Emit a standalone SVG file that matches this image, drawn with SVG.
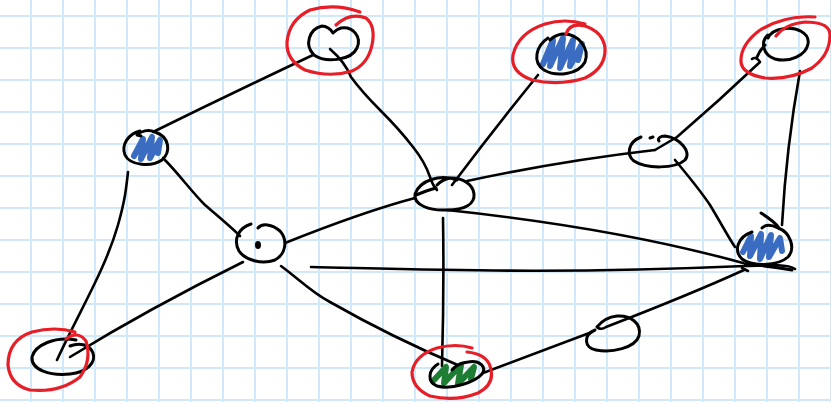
<svg xmlns="http://www.w3.org/2000/svg" width="831" height="402" viewBox="0 0 831 402">
<style>
.ink{fill:none;stroke:#000;stroke-width:3;stroke-linecap:round;stroke-linejoin:round}
.edge{fill:none;stroke:#000;stroke-width:2.6;stroke-linecap:round;stroke-linejoin:round}
.red{fill:none;stroke:#e61e27;stroke-width:3.2;stroke-linecap:round;stroke-linejoin:round}
.blue{fill:none;stroke:#3a6cc2;stroke-width:6;stroke-linecap:round;stroke-linejoin:round}
.green{fill:none;stroke:#1d7d33;stroke-width:6;stroke-linecap:round;stroke-linejoin:round}
</style>
<defs>
<pattern id="grid" x="15" y="0" width="32" height="32" patternUnits="userSpaceOnUse">
<path d="M16 0 V32 M0 16 H32" stroke="#cfe8fa" stroke-width="2" fill="none"/>
</pattern>
</defs>
<rect width="831" height="402" fill="#fff"/>
<rect width="831" height="402" fill="url(#grid)"/>
<g id="connectors">
<path class="edge" d="M313 55 Q230 94 153 132"/>
<path class="edge" d="M330 49 Q345 62 351 77 Q362 92 380 110 Q400 130 413 147 Q425 162 430 177 Q433 186 437 190"/>
<path class="edge" d="M538 75 Q495 128 452 185"/>
<path class="edge" d="M467 181 Q560 161 655 150"/>
<path class="edge" d="M655 150 L677 137 Q720 100 760 62 Q756 56 752 59"/>
<path class="edge" d="M800 71 C793 110 785 170 782 225"/>
<path class="edge" d="M675 160 C690 178 700 190 710 205 C722 225 730 240 735 247"/>
<path class="edge" d="M447 210 C560 222 660 240 743 263"/>
<path class="edge" d="M311 267 C450 270 560 274 745 266 C770 265 788 264 795 269"/>
<path class="edge" d="M742 268 L748 271"/>
<path class="edge" d="M744 270 C700 290 650 310 606 327 Q602 330 598 328"/>
<path class="edge" d="M483 373 L592 332"/>
<path class="edge" d="M443 218 C444 280 443 330 442 366"/>
<path class="edge" d="M281 266 C300 280 312 293 330 302 C365 322 410 345 460 366"/>
<path class="edge" d="M285 243 C330 225 370 210 415 198"/>
<path class="edge" d="M163 158 C180 175 190 190 205 205 C220 218 232 228 240 236"/>
<path class="edge" d="M128 172 C126 190 125 200 118 225 C105 270 80 310 57 360"/>
<path class="edge" d="M243 262 Q150 308 70 357"/>
</g>
<g id="node-a">
<path class="ink" d="M322 26 C309 29 304 45 314 55 C325 63 351 61 357 48 C362 37 353 26 341 28 C337 29 335 31 333 33 C331 29 326 26 322 26"/>
<path class="red" d="M336 25 Q350 12 366 18 Q376 26 372 45 Q368 64 352 71 Q330 78 305 70 Q286 60 287 42 Q289 20 310 10 Q335 3 360 12"/>
</g>
<g id="node-b">
<path class="blue" d="M543 64 L553 40 L550 66 L563 38 L560 68 L573 40 L570 66 L582 44 L578 60"/>
<path class="ink" d="M548 38 C536 46 532 62 544 70 C556 77 578 75 585 62 C590 48 578 33 562 34 C556 35 552 38 550 40"/>
<path class="red" d="M566 34 Q570 22 585 26 Q603 32 605 48 Q606 68 585 78 Q560 86 532 80 Q510 72 513 55 Q518 33 545 24 Q565 18 585 24"/>
</g>
<g id="node-c">
<path class="ink" d="M768 35 C760 42 763 55 775 59 C790 63 806 55 808 44 C810 33 796 26 782 29 C775 30 770 34 768 38"/>
<path class="ink" d="M765 45 Q760 50 757 57"/>
<path class="red" d="M776 36 Q785 24 805 22 Q830 22 830 35 Q830 55 812 68 Q790 80 765 78 Q742 74 741 62 Q740 45 760 30 Q785 15 815 17"/>
</g>
<g id="node-d">
<path class="blue" d="M134 156 L143 139 L141 159 L152 137 L150 158 L160 140 L158 153"/>
<path class="ink" d="M140 131 C128 134 121 145 125 155 C130 166 152 167 162 160 C171 152 170 137 155 132 C148 129 141 131 137 135 L141 136"/>
</g>
<g id="node-e">
<path class="ink" d="M457 180 C440 174 420 180 415 194 C413 205 430 211 447 210 C465 210 475 204 474 194 C473 184 462 178 452 178 C445 178 440 182 437 185"/>
<path class="ink" d="M416 195 Q428 190 436 188"/>
</g>
<g id="node-f">
<path class="ink" d="M641 137 C628 142 626 155 634 161 C646 169 675 169 685 160 C692 152 680 138 665 136 C660 136 657 139 659 141"/>
<path class="ink" d="M653 137 L650 138"/>
</g>
<g id="node-g">
<path class="ink" d="M251 224 C238 228 233 240 239 251 C245 260 262 265 275 260 C286 254 288 240 280 231 C272 224 262 223 258 228"/>
<ellipse cx="258" cy="245" rx="3" ry="4" fill="#000"/>
</g>
<g id="node-h">
<path class="blue" d="M743 252 L751 236 L750 256 L761 234 L760 259 L771 235 L769 257 L780 238 L782 251"/>
<path class="ink" d="M752 232 C738 237 733 250 742 259 C752 267 778 266 788 257 C796 248 790 232 778 228 C772 225 766 224 762 228"/>
<path class="ink" d="M761 213 Q775 222 779 228"/>
<path class="ink" d="M745 264 Q770 266 792 270"/>
</g>
<g id="node-i">
<path class="ink" d="M76 340 C55 336 35 345 32 357 C31 370 50 376 70 374 C88 372 96 362 93 353 C90 345 80 342 70 346"/>
<path class="red" d="M66 339 Q78 330 86 341 Q92 360 80 377 Q60 393 30 390 Q10 385 8 365 Q8 340 32 332 Q55 326 75 332"/>
</g>
<g id="node-j">
<path class="green" d="M434 380 L446 367 L444 383 L461 365 L458 384 L474 367 L471 379"/>
<path class="ink" d="M438 364 C428 370 427 382 437 386 C452 390 475 382 482 374 C487 367 480 360 468 362 C460 363 455 366 452 370"/>
<path class="red" d="M467 352 Q486 354 490 366 Q496 384 478 393 Q455 402 430 396 Q412 388 412 372 Q415 355 437 348 Q456 343 472 348"/>
</g>
<g id="node-k">
<path class="ink" d="M595 330 C583 335 584 348 596 350 C612 353 635 348 639 336 C642 323 630 315 617 316 C607 317 601 322 597 327"/>
</g>
</svg>
